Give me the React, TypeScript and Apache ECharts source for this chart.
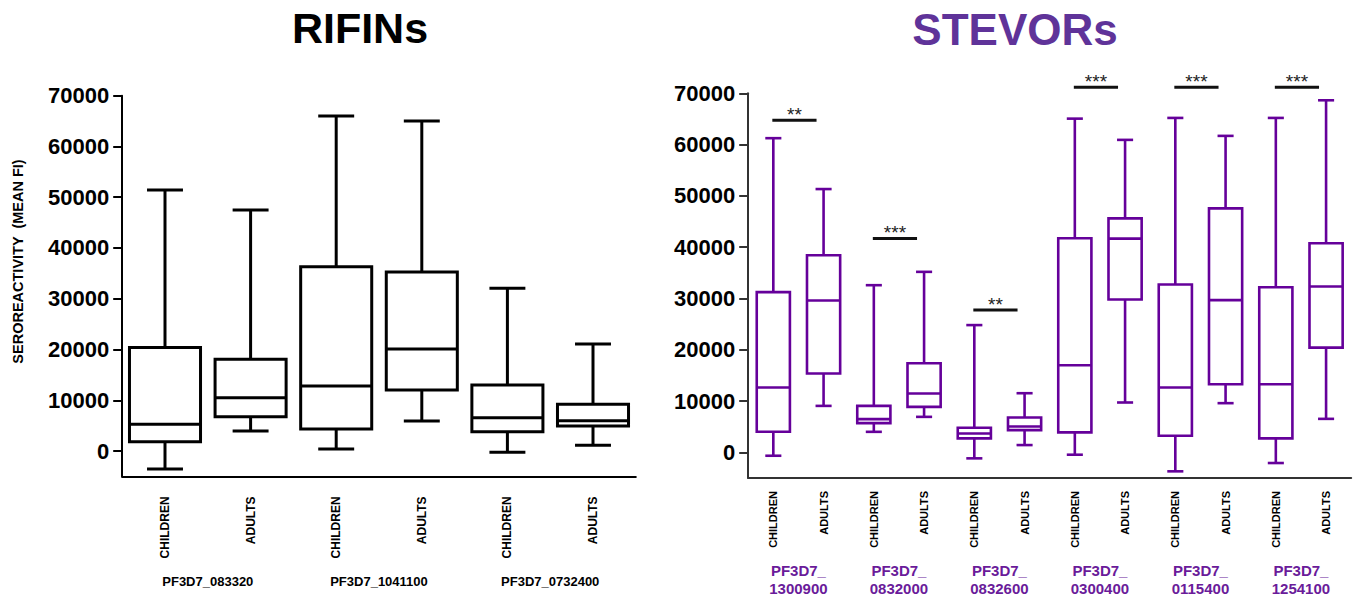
import React, { useEffect, useRef } from "react";
import * as echarts from "echarts";

const FONT = "'Liberation Sans', Arial, Helvetica, sans-serif";
const PURPLE = "#65009a";
const TITLE_PURPLE = "#5f3399";
const LABEL_PURPLE = "#6a1b9a";

const yTicks = [0, 10000, 20000, 30000, 40000, 50000, 60000, 70000];

const leftCategories = ["CHILDREN", "ADULTS", "CHILDREN", "ADULTS", "CHILDREN", "ADULTS"];
const leftGroups = ["PF3D7_083320", "PF3D7_1041100", "PF3D7_0732400"];
// [min, q1, median, q3, max]
const leftBoxes = [
  [-3550, 1830, 5260, 20400, 51400],
  [3940, 6760, 10500, 18060, 47500],
  [400, 4330, 12800, 36300, 66000],
  [5900, 12000, 20100, 35260, 65000],
  [-260, 3810, 6570, 13000, 32050],
  [1120, 4925, 5970, 9200, 21080],
];

const rightCategories = [
  "CHILDREN", "ADULTS", "CHILDREN", "ADULTS", "CHILDREN", "ADULTS",
  "CHILDREN", "ADULTS", "CHILDREN", "ADULTS", "CHILDREN", "ADULTS",
];
const rightGroups = [
  "PF3D7_\n1300900",
  "PF3D7_\n0832000",
  "PF3D7_\n0832600",
  "PF3D7_\n0300400",
  "PF3D7_\n0115400",
  "PF3D7_\n1254100",
];
const rightBoxes = [
  [-660, 4010, 12640, 31230, 61250],
  [9060, 15360, 29610, 38420, 51330],
  [4000, 5700, 6470, 9060, 32590],
  [6920, 8870, 11470, 17360, 35190],
  [-1170, 2720, 3690, 4790, 24810],
  [1420, 4340, 5050, 6800, 11530],
  [-460, 3890, 16970, 41730, 65060],
  [9720, 29810, 41670, 45620, 60920],
  [-3700, 3230, 12640, 32720, 65200],
  [9590, 13280, 29670, 47560, 61700],
  [-2080, 2720, 13280, 32200, 65200],
  [6530, 20420, 32340, 40760, 68640],
];

// significance bars: pair index, height, label
const sigPairs = [0, 1, 2, 3, 4, 5];
const sigHeights = [64750, 41670, 27730, 71170, 71170, 71170];
const sigLabels = ["**", "***", "**", "***", "***", "***"];

function boxRenderer(color: string, lineWidth: number, boxFrac: number, capFrac: number) {
  return (params: any, api: any) => {
    const x = api.value(0);
    const pMin = api.coord([x, api.value(1)]);
    const pQ1 = api.coord([x, api.value(2)]);
    const pMed = api.coord([x, api.value(3)]);
    const pQ3 = api.coord([x, api.value(4)]);
    const pMax = api.coord([x, api.value(5)]);
    const cx = pMin[0];
    const band = api.size([1, 0])[0];
    const bw = band * boxFrac;
    const cw = band * capFrac;
    const style = { stroke: color, lineWidth, fill: "none" };
    return {
      type: "group",
      children: [
        { type: "line", shape: { x1: cx, y1: pQ3[1], x2: cx, y2: pMax[1] }, style },
        { type: "line", shape: { x1: cx - cw / 2, y1: pMax[1], x2: cx + cw / 2, y2: pMax[1] }, style },
        { type: "line", shape: { x1: cx, y1: pQ1[1], x2: cx, y2: pMin[1] }, style },
        { type: "line", shape: { x1: cx - cw / 2, y1: pMin[1], x2: cx + cw / 2, y2: pMin[1] }, style },
        {
          type: "rect",
          shape: { x: cx - bw / 2, y: pQ3[1], width: bw, height: pQ1[1] - pQ3[1] },
          style: { stroke: color, lineWidth, fill: "#fff" },
        },
        { type: "line", shape: { x1: cx - bw / 2, y1: pMed[1], x2: cx + bw / 2, y2: pMed[1] }, style },
      ],
    };
  };
}

function sigRenderer(params: any, api: any) {
  const idx = api.value(0);
  const yv = api.value(1);
  const band = api.size([1, 0])[0];
  const p1 = api.coord([idx, yv]);
  const p2 = api.coord([idx + 1, yv]);
  const x1 = p1[0] - 1;
  const x2 = p2[0] - band * 0.14;
  return {
    type: "group",
    children: [
      { type: "line", shape: { x1, y1: p1[1], x2, y2: p1[1] }, style: { stroke: "#111", lineWidth: 3 } },
      {
        type: "text",
        x: (x1 + x2) / 2,
        y: p1[1] - 6,
        style: {
          text: sigLabels[params.dataIndex],
          fontSize: 19,
          fontFamily: FONT,
          fill: "#222",
          textAlign: "center",
          textVerticalAlign: "middle",
        },
      },
    ],
  };
}

function yAxisCfg(gridIndex: number, color: string) {
  return {
    type: "value",
    gridIndex,
    min: -5000,
    max: 70000,
    axisLine: { show: true, lineStyle: { color, width: 2 } },
    axisTick: { show: true, customValues: yTicks, length: 9, lineStyle: { color, width: 2 } },
    axisLabel: {
      customValues: yTicks,
      formatter: (v: number) => String(v),
      fontSize: 22,
      fontWeight: "bold",
      fontFamily: FONT,
      color: "#000",
      margin: 13,
    },
    splitLine: { show: false },
  };
}

export default function App() {
  const ref = useRef<HTMLDivElement>(null);
  useEffect(() => {
    if (!ref.current) return;
    const chart = echarts.init(ref.current, null, { renderer: "svg" });
    const option: any = {
      animation: false,
      backgroundColor: "#fff",
      grid: [
        { left: 122.2, top: 95.7, width: 513.6, height: 380.7 },
        { left: 748.2, top: 93.3, width: 603, height: 385.7 },
      ],
      xAxis: [
        {
          type: "category",
          gridIndex: 0,
          data: leftCategories,
          axisLine: { onZero: false, lineStyle: { color: "#000", width: 2 } },
          axisTick: { alignWithLabel: true, length: 10, lineStyle: { color: "#000", width: 2 } },
          axisLabel: {
            interval: 0,
            rotate: 90,
            fontSize: 12,
            fontWeight: "bold",
            fontFamily: FONT,
            color: "#000",
            margin: 20,
          },
        },
        {
          type: "category",
          gridIndex: 0,
          position: "bottom",
          data: leftGroups,
          axisLine: { show: false, onZero: false },
          axisTick: { show: false },
          axisLabel: {
            interval: 0,
            fontSize: 13,
            fontWeight: "bold",
            fontFamily: FONT,
            color: "#000",
            margin: 99,
          },
        },
        {
          type: "category",
          gridIndex: 1,
          data: rightCategories,
          axisLine: { onZero: false, lineStyle: { color: "#333", width: 2 } },
          axisTick: { alignWithLabel: true, length: 7, lineStyle: { color: "#333", width: 2 } },
          axisLabel: {
            interval: 0,
            rotate: 90,
            fontSize: 11,
            fontWeight: "bold",
            fontFamily: FONT,
            color: "#000",
            margin: 13,
          },
        },
        {
          type: "category",
          gridIndex: 1,
          position: "bottom",
          data: rightGroups,
          axisLine: { show: false, onZero: false },
          axisTick: { show: false },
          axisLabel: {
            interval: 0,
            fontSize: 15,
            fontWeight: "bold",
            fontFamily: FONT,
            color: LABEL_PURPLE,
            lineHeight: 18,
            margin: 83,
          },
        },
      ],
      yAxis: [yAxisCfg(0, "#000"), yAxisCfg(1, "#333")],
      graphic: [
        {
          type: "text",
          x: 360,
          y: 28,
          style: {
            text: "RIFINs",
            fontSize: 43,
            fontWeight: "bold",
            fontFamily: FONT,
            fill: "#000",
            textAlign: "center",
            textVerticalAlign: "middle",
          },
        },
        {
          type: "text",
          x: 1015,
          y: 29,
          style: {
            text: "STEVORs",
            fontSize: 44,
            fontWeight: "bold",
            fontFamily: FONT,
            fill: TITLE_PURPLE,
            textAlign: "center",
            textVerticalAlign: "middle",
          },
        },
        {
          type: "text",
          x: 18,
          y: 261.5,
          rotation: Math.PI / 2,
          style: {
            text: "SEROREACTIVITY  (MEAN FI)",
            fontSize: 14.5,
            fontWeight: "bold",
            fontFamily: FONT,
            fill: "#000",
            textAlign: "center",
            textVerticalAlign: "middle",
          },
        },
      ],
      series: [
        {
          type: "custom",
          xAxisIndex: 0,
          yAxisIndex: 0,
          renderItem: boxRenderer("#000", 3, 0.83, 0.42),
          encode: { x: 0, y: [1, 2, 3, 4, 5] },
          data: leftBoxes.map((b, i) => [i, ...b]),
        },
        {
          type: "custom",
          xAxisIndex: 2,
          yAxisIndex: 1,
          renderItem: boxRenderer(PURPLE, 2.6, 0.66, 0.32),
          encode: { x: 0, y: [1, 2, 3, 4, 5] },
          data: rightBoxes.map((b, i) => [i, ...b]),
        },
        {
          type: "custom",
          xAxisIndex: 2,
          yAxisIndex: 1,
          renderItem: sigRenderer,
          encode: { x: 0, y: 1 },
          data: sigPairs.map((p, i) => [p * 2, sigHeights[i]]),
        },
      ],
    };
    chart.setOption(option);
    return () => chart.dispose();
  }, []);
  return (
    <div
      ref={ref}
      style={{ position: "fixed", left: 0, top: 0, width: 1355, height: 597, background: "#fff" }}
    />
  );
}
